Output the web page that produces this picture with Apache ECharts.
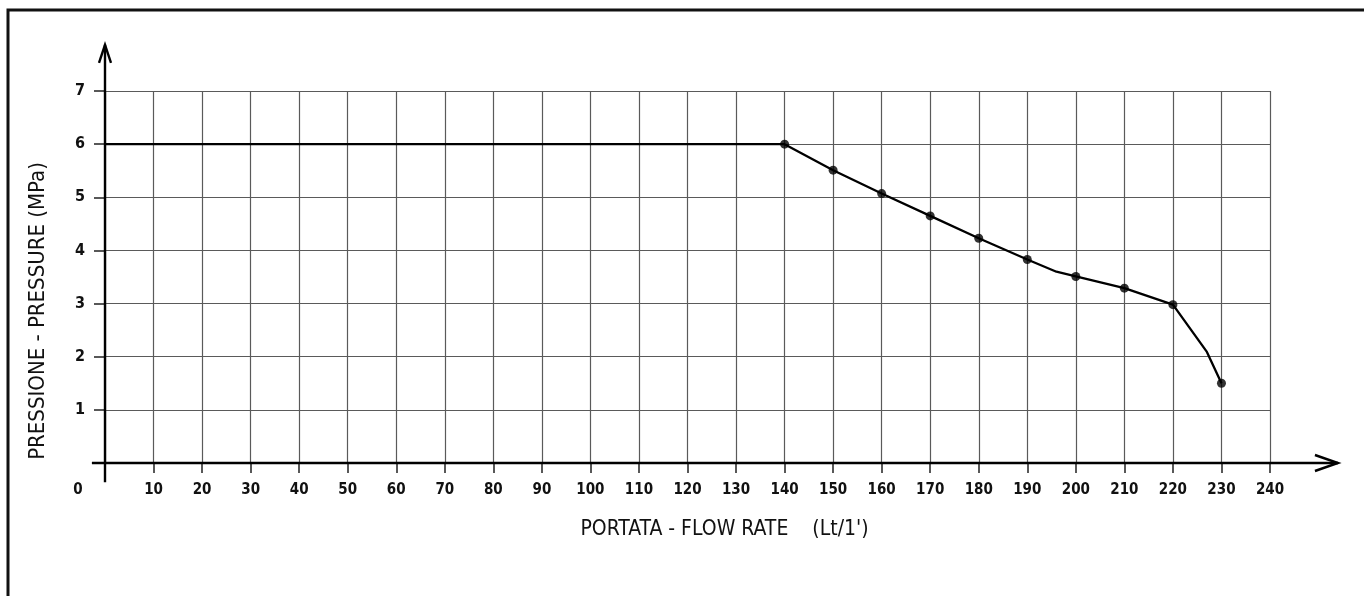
<!DOCTYPE html>
<html>
<head>
<meta charset="utf-8">
<script src="https://cdn.jsdelivr.net/npm/echarts@6/dist/echarts.min.js"></script>
<style>
  html, body { margin: 0; padding: 0; background: #fff; }
  #chart { width: 1364px; height: 596px; }
</style>
</head>
<body>
<div id="chart"></div>
<script>
// curve (includes the unmarked bend points of the hand drawn line)
const curveFlow = [0, 140, 150, 160, 170, 180, 190, 196, 200, 210, 220, 227, 230];
const curvePressure = [6, 6.0, 5.51, 5.07, 4.65, 4.23, 3.83, 3.6, 3.51, 3.29, 2.98, 2.09, 1.5];

// dots on the curve
const pointFlow = [140, 150, 160, 170, 180, 190, 200, 210, 220, 230];
const pointPressure = [6.0, 5.51, 5.07, 4.65, 4.23, 3.83, 3.51, 3.29, 2.98, 1.5];

const xMin = 0, xMax = 240, xStep = 10;
const yMin = 0, yMax = 7, yStep = 1;

const xTitle = "PORTATA - FLOW RATE    (Lt/1')";
const yTitle = 'PRESSIONE - PRESSURE (MPa)';

const FONT = "'DejaVu Sans Condensed', 'Liberation Sans', sans-serif";

const chart = echarts.init(document.getElementById('chart'));

const option = {
  animation: false,
  backgroundColor: '#fff',
  grid: { left: 105, right: 94, top: 91, bottom: 133 },
  xAxis: {
    type: 'value',
    min: xMin,
    max: xMax,
    interval: xStep,
    axisLine: { show: false },
    axisTick: { show: true, length: 10, lineStyle: { color: '#222', width: 1.5 } },
    axisLabel: {
      margin: 20,
      color: '#111',
      fontFamily: FONT,
      fontSize: 15,
      fontWeight: 'bold',
      formatter: function (v) {
        return v === 0 ? '{z|0}' : String(v);
      },
      rich: {
        z: { fontFamily: FONT, fontSize: 15, fontWeight: 'bold', color: '#111', padding: [0, 54, 0, 0] }
      }
    },
    splitLine: { show: true, lineStyle: { color: '#5a5a5a', width: 1.2 } },
    name: xTitle,
    nameLocation: 'middle',
    nameGap: 56,
    nameTextStyle: { fontFamily: FONT, fontSize: 21, color: '#111', padding: [0, 0, 0, 74] }
  },
  yAxis: {
    type: 'value',
    min: yMin,
    max: yMax,
    interval: yStep,
    axisLine: { show: false },
    axisTick: { show: true, length: 11, lineStyle: { color: '#222', width: 1.5 } },
    axisLabel: {
      margin: 20,
      color: '#111',
      fontFamily: FONT,
      fontSize: 16,
      fontWeight: 'bold',
      formatter: function (v) { return v === 0 ? '' : String(v); }
    },
    splitLine: { show: true, lineStyle: { color: '#5a5a5a', width: 1.2 } },
    name: yTitle,
    nameLocation: 'middle',
    nameRotate: 90,
    nameGap: 56,
    nameTextStyle: { fontFamily: FONT, fontSize: 22, color: '#111', padding: [0, 68, 0, 0] }
  },
  series: [
    {
      name: 'curve',
      type: 'line',
      data: curveFlow.map((x, i) => [x, curvePressure[i]]),
      showSymbol: false,
      symbol: 'none',
      lineStyle: { color: '#000', width: 2.3 },
      z: 5
    },
    {
      name: 'points',
      type: 'scatter',
      data: pointFlow.map((x, i) => [x, pointPressure[i]]),
      symbol: 'circle',
      symbolSize: 9,
      itemStyle: { color: '#000' },
      z: 6
    }
  ]
};

chart.setOption(option);

// axes with open arrows, drawn from the axis scale
const o = chart.convertToPixel({ gridIndex: 0 }, [0, 0]);
const xStart = chart.convertToPixel({ gridIndex: 0 }, [-2.7, 0]);
const xEnd = chart.convertToPixel({ gridIndex: 0 }, [254, 0]);
const yStart = chart.convertToPixel({ gridIndex: 0 }, [0, -0.36]);
const yEnd = chart.convertToPixel({ gridIndex: 0 }, [0, 7.87]);

const axisStyle = { stroke: '#000', lineWidth: 2.4, fill: null };

chart.setOption({
  graphic: [
    { type: 'polyline', shape: { points: [[8, 596], [8, 10], [1364, 10]] }, style: { stroke: '#111', lineWidth: 3, fill: null }, silent: true },
    { type: 'line', shape: { x1: xStart[0], y1: o[1], x2: xEnd[0], y2: o[1] }, style: axisStyle, z: 10 },
    { type: 'polyline', shape: { points: [[xEnd[0] - 23, o[1] - 8], [xEnd[0], o[1]], [xEnd[0] - 23, o[1] + 8]] }, style: axisStyle, z: 10 },
    { type: 'line', shape: { x1: o[0], y1: yStart[1], x2: o[0], y2: yEnd[1] }, style: axisStyle, z: 10 },
    { type: 'polyline', shape: { points: [[o[0] - 6, yEnd[1] + 18], [o[0], yEnd[1]], [o[0] + 6, yEnd[1] + 18]] }, style: axisStyle, z: 10 }
  ]
});

window.addEventListener('resize', () => chart.resize());
</script>
</body>
</html>
